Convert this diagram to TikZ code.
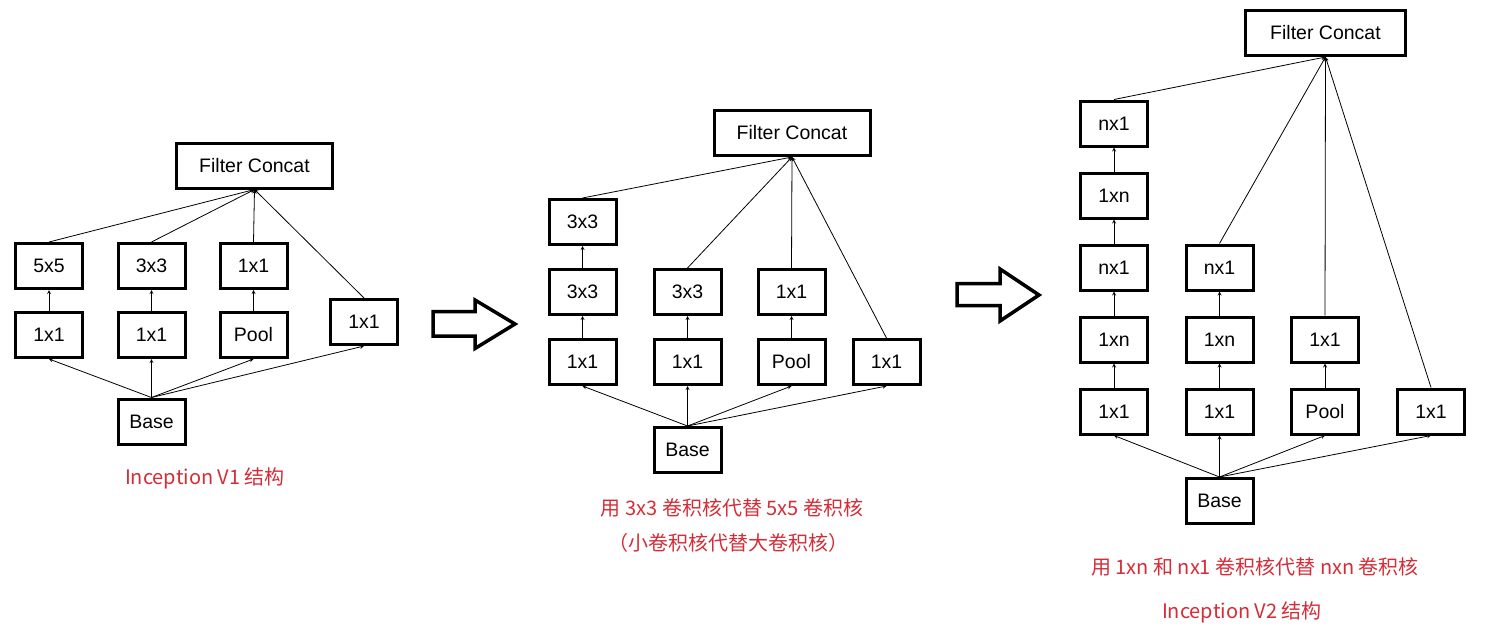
\documentclass[tikz,border=0pt]{standalone}
\usepackage{fontspec}
\setmainfont{Liberation Sans}
\newfontfamily\cjkfont{Noto Sans CJK SC}
\usetikzlibrary{arrows}
\definecolor{captionred}{RGB}{212,45,55}

\begin{document}
\begin{tikzpicture}[x=1pt, y=-1pt, node distance=72pt]
        \tikzstyle{layer} = [rectangle, draw=black, line width=3pt, minimum width=67pt, minimum height=45pt, inner sep=0pt, text centered, font=\fontsize{19.5}{23}\selectfont]
        \tikzstyle{concat} = [layer, minimum width=156pt]
        \tikzstyle{arrow} = [thick,->,>=stealth]
        \tikzstyle{caption} = [text=captionred, font=\cjkfont\fontsize{20}{24}\selectfont]
        \tikzstyle{bigarrow} = [draw=black, line width=3.5pt, line join=miter]

        \useasboundingbox (0,0) rectangle (1500,627);

        % Inception V1
        \begin{scope}[node distance=69pt]
        \node (v1base) [layer] at (151.5,421.5) {Base};
        \node (v1reduceA) [layer] at (49,335) {1x1};
        \node (v1conv5) [layer, above of=v1reduceA] {5x5};
        \node (v1reduceB) [layer] at (151.5,335) {1x1};
        \node (v1conv3) [layer, above of=v1reduceB] {3x3};
        \node (v1pool) [layer] at (253.5,335) {Pool};
        \node (v1proj) [layer, above of=v1pool] {1x1};
        \node (v1side) [layer] at (364,322) {1x1};
        \node (v1concat) [concat] at (254.5,165.5) {Filter Concat};
        \node (v1caption) [caption] at (205,478) {Inception V1 结构};
        \end{scope}

        \draw [arrow] (v1base.north) -- (v1reduceA.south);
        \draw [arrow] (v1base.north) -- (v1reduceB.south);
        \draw [arrow] (v1base.north) -- (v1pool.south);
        \draw [arrow] (v1base.north) -- (v1side.south);
        \draw [arrow] (v1reduceA) -- (v1conv5);
        \draw [arrow] (v1reduceB) -- (v1conv3);
        \draw [arrow] (v1pool) -- (v1proj);
        \draw [arrow] (v1conv5.north) -- (v1concat.south);
        \draw [arrow] (v1conv3.north) -- (v1concat.south);
        \draw [arrow] (v1proj.north) -- (v1concat.south);
        \draw [arrow] (v1side.north) -- (v1concat.south);

        % Big arrows
        \draw [bigarrow] (433,311.5) -- (475,311.5) -- (475,300) -- (515,324) -- (475,348.5) -- (475,336) -- (433,336) -- cycle;
        \draw [bigarrow] (957,283.5) -- (1000,283.5) -- (1000,269) -- (1039,295) -- (1000,321) -- (1000,305.5) -- (957,305.5) -- cycle;

        % 3x3 instead of 5x5
        \begin{scope}[node distance=70pt]
        \node (v2base) [layer] at (687.5,450) {Base};
        \node (v2reduceA) [layer] at (582.5,362) {1x1};
        \node (v2conv3a) [layer, above of=v2reduceA] {3x3};
        \node (v2conv3b) [layer, above of=v2conv3a] {3x3};
        \node (v2reduceB) [layer] at (687.5,362) {1x1};
        \node (v2conv3c) [layer, above of=v2reduceB] {3x3};
        \node (v2pool) [layer] at (791.5,362) {Pool};
        \node (v2proj) [layer, above of=v2pool] {1x1};
        \node (v2side) [layer] at (886.5,362) {1x1};
        \node (v2concat) [concat] at (792,133) {Filter Concat};
        \node (v2captionA) [caption] at (732,508) {用 3x3 卷积核代替 5x5 卷积核};
        \node (v2captionB) [caption] at (728,543) {（小卷积核代替大卷积核）};
        \end{scope}

        \draw [arrow] (v2base.north) -- (v2reduceA.south);
        \draw [arrow] (v2base.north) -- (v2reduceB.south);
        \draw [arrow] (v2base.north) -- (v2pool.south);
        \draw [arrow] (v2base.north) -- (v2side.south);
        \draw [arrow] (v2reduceA) -- (v2conv3a);
        \draw [arrow] (v2conv3a) -- (v2conv3b);
        \draw [arrow] (v2reduceB) -- (v2conv3c);
        \draw [arrow] (v2pool) -- (v2proj);
        \draw [arrow] (v2conv3b.north) -- (v2concat.south);
        \draw [arrow] (v2conv3c.north) -- (v2concat.south);
        \draw [arrow] (v2proj.north) -- (v2concat.south);
        \draw [arrow] (v2side.north) -- (v2concat.south);

        % Inception V2
        \node (v3base) [layer] at (1219.5,501) {Base};
        \node (v3reduceA) [layer] at (1114,411.5) {1x1};
        \node (v3rowA) [layer, above of=v3reduceA] {1xn};
        \node (v3colA) [layer, above of=v3rowA] {nx1};
        \node (v3rowB) [layer, above of=v3colA] {1xn};
        \node (v3colB) [layer, above of=v3rowB] {nx1};
        \node (v3reduceB) [layer] at (1219.5,411.5) {1x1};
        \node (v3rowC) [layer, above of=v3reduceB] {1xn};
        \node (v3colC) [layer, above of=v3rowC] {nx1};
        \node (v3pool) [layer] at (1325,411.5) {Pool};
        \node (v3proj) [layer, above of=v3pool] {1x1};
        \node (v3side) [layer] at (1431,411.5) {1x1};
        \node (v3concat) [concat, minimum width=160pt] at (1325.5,33) {Filter Concat};
        \node (v3captionA) [caption] at (1255,567) {用 1xn 和 nx1 卷积核代替 nxn 卷积核};
        \node (v3captionB) [caption] at (1242,612) {Inception V2 结构};

        \draw [arrow] (v3base.north) -- (v3reduceA.south);
        \draw [arrow] (v3base.north) -- (v3reduceB.south);
        \draw [arrow] (v3base.north) -- (v3pool.south);
        \draw [arrow] (v3base.north) -- (v3side.south);
        \draw [arrow] (v3reduceA) -- (v3rowA);
        \draw [arrow] (v3rowA) -- (v3colA);
        \draw [arrow] (v3colA) -- (v3rowB);
        \draw [arrow] (v3rowB) -- (v3colB);
        \draw [arrow] (v3reduceB) -- (v3rowC);
        \draw [arrow] (v3rowC) -- (v3colC);
        \draw [arrow] (v3pool) -- (v3proj);
        \draw [arrow] (v3colB.north) -- (v3concat.south);
        \draw [arrow] (v3colC.north) -- (v3concat.south);
        \draw [arrow] (v3proj.north) -- (v3concat.south);
        \draw [arrow] (v3side.north) -- (v3concat.south);

    \end{tikzpicture}
\end{document}
